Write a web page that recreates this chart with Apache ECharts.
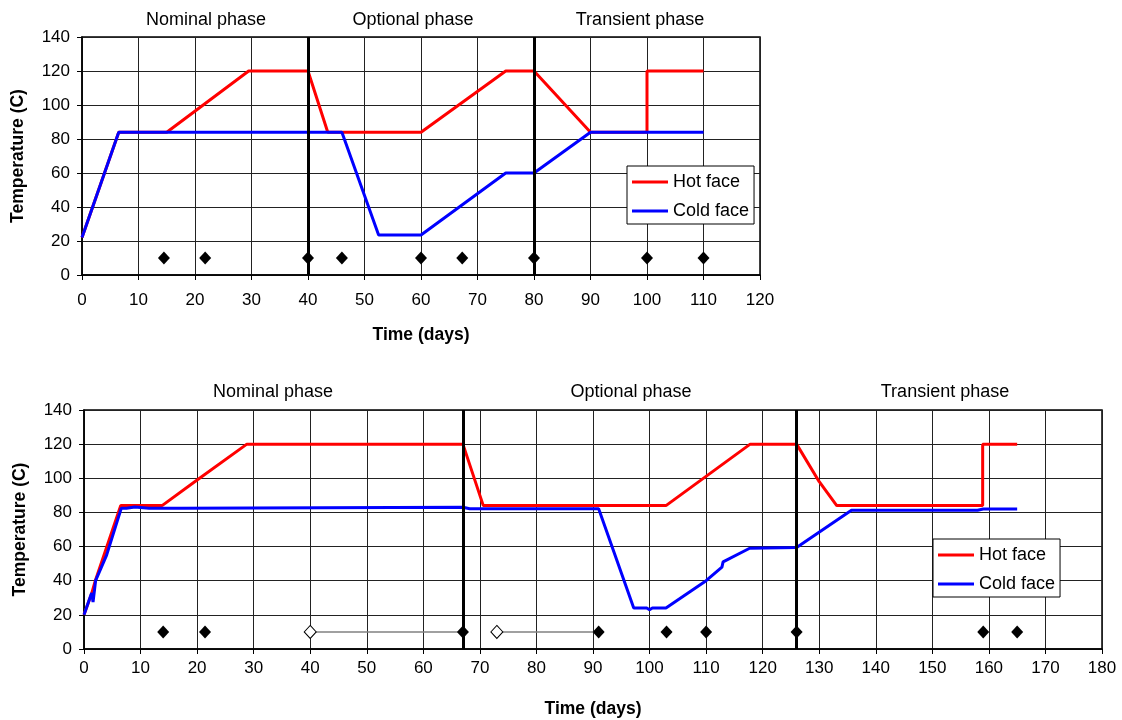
<!DOCTYPE html>
<html>
<head>
<meta charset="utf-8">
<script src="https://cdn.jsdelivr.net/npm/echarts@6/dist/echarts.min.js"></script>
<style>
html,body{margin:0;padding:0;background:#fff;}
#chart{width:1122px;height:720px;}
</style>
</head>
<body>
<div id="chart"></div>
<script>
// ---------- Data ----------
var phaseNames = ['Nominal phase', 'Optional phase', 'Transient phase'];
var seriesNames = ['Hot face', 'Cold face'];

// Top chart
var topHotX  = [0, 6.5, 15, 29.5, 40, 43.5, 60, 75, 80, 90, 100, 100, 110];
var topHotY  = [22, 84, 84, 120, 120, 84, 84, 120, 120, 84, 84, 120, 120];
var topColdX = [0, 6.5, 46, 52.5, 60, 75, 80, 90, 110];
var topColdY = [22, 84, 84, 23.5, 23.5, 60, 60, 84, 84];
var topMarkX = [14.5, 21.8, 40, 46, 60, 67.3, 80, 100, 110];
var topDividers = [40, 80];

// Bottom chart
var botHotX  = [0, 1.4, 2, 6.5, 13.8, 20, 28.8, 67, 70.6, 102.9, 117.8, 126, 130, 133.1, 158.9, 158.9, 165];
var botHotY  = [20, 33, 40, 84, 84, 99, 120, 120, 84, 84, 120, 120, 98, 84, 84, 120, 120];
var botColdX = [0, 1.35, 1.6, 1.95, 2.05, 4, 6.6, 7.5, 9, 11.5, 17.2, 17.4, 67, 68.2, 91, 97.2, 99.5, 100, 100.5, 102.9, 110, 112.8, 113, 117.7, 126, 135.7, 158, 159, 165];
var botColdY = [20, 32.8, 27.5, 27.5, 40, 55, 82.5, 82.5, 83.2, 82.4, 82.4, 83, 83, 82.2, 82.2, 24, 24, 23, 24, 24, 40, 48, 51, 59, 59.5, 81.3, 81.3, 82, 82];
var botMarkX = [14, 21.4, 67, 91, 103, 110, 126, 159, 165];
var botHollowX = [40, 73];
var botLinks = [[40, 67], [73, 91]];
var botDividers = [67, 126];

var markerY = 10;
var yTicks = {min: 0, max: 140, interval: 20};

// ---------- Helpers ----------
function pairs(xs, ys) { return xs.map(function (x, i) { return [x, ys[i]]; }); }
function pts(xs) { return xs.map(function (x) { return [x, markerY]; }); }

var FONT = '"Liberation Sans", Arial, sans-serif';

function makeX(idx, max) {
  return {
    type: 'value', gridIndex: idx, min: 0, max: max, interval: 10,
    name: 'Time (days)', nameLocation: 'middle', nameGap: 51,
    nameTextStyle: {fontFamily: FONT, fontSize: 17.5, fontWeight: 'bold', color: '#000'},
    axisLine: {lineStyle: {color: '#000', width: 1.5}},
    axisTick: {show: true, length: 5, lineStyle: {color: '#000'}},
    axisLabel: {fontFamily: FONT, fontSize: 17, color: '#000', margin: idx === 0 ? 17 : 11},
    splitLine: {show: true, lineStyle: {color: '#222', width: 1}}
  };
}
function makeY(idx) {
  return {
    type: 'value', gridIndex: idx, min: yTicks.min, max: yTicks.max, interval: yTicks.interval,
    name: 'Temperature (C)', nameLocation: 'middle', nameGap: idx === 0 ? 54.5 : 55,
    nameTextStyle: {fontFamily: FONT, fontSize: 17.5, fontWeight: 'bold', color: '#000'},
    axisLine: {show: true, lineStyle: {color: '#000', width: 1.5}},
    axisTick: {show: true, length: 5, lineStyle: {color: '#000'}},
    axisLabel: {fontFamily: FONT, fontSize: 17, color: '#000', margin: 12},
    splitLine: {show: true, lineStyle: {color: '#222', width: 1}}
  };
}

function dividerSeries(idx, xs) {
  return {
    type: 'line', xAxisIndex: idx, yAxisIndex: idx, data: [], silent: true,
    markLine: {
      silent: true, symbol: ['none', 'none'], animation: false,
      label: {show: false},
      lineStyle: {color: '#000', width: 3, type: 'solid'},
      data: xs.map(function (x) { return {xAxis: x}; })
    }
  };
}
function lineSeries(idx, name, data, color) {
  return {
    type: 'line', name: name, xAxisIndex: idx, yAxisIndex: idx,
    data: data, symbol: 'none', showSymbol: false, animation: false,
    lineStyle: {color: color, width: 3}, itemStyle: {color: color}, z: 3
  };
}
function markerSeries(idx, data, hollow) {
  return {
    type: 'scatter', xAxisIndex: idx, yAxisIndex: idx, data: data,
    symbol: 'diamond', symbolSize: [12, 13], animation: false, z: 5,
    itemStyle: hollow ? {color: '#fff', borderColor: '#000', borderWidth: 1, opacity: 1}
                      : {color: '#000', opacity: 1}
  };
}

var series = [];
// top
series.push(dividerSeries(0, topDividers));
series.push(lineSeries(0, seriesNames[0], pairs(topHotX, topHotY), '#ff0000'));
series.push(lineSeries(0, seriesNames[1], pairs(topColdX, topColdY), '#0000ff'));
series.push(markerSeries(0, pts(topMarkX), false));
// bottom
series.push(dividerSeries(1, botDividers));
botLinks.forEach(function (l) {
  series.push({
    type: 'line', xAxisIndex: 1, yAxisIndex: 1, data: pts(l), symbol: 'none',
    lineStyle: {color: '#808080', width: 1.5}, animation: false, z: 4, silent: true
  });
});
series.push(lineSeries(1, seriesNames[0], pairs(botHotX, botHotY), '#ff0000'));
series.push(lineSeries(1, seriesNames[1], pairs(botColdX, botColdY), '#0000ff'));
series.push(markerSeries(1, pts(botMarkX), false));
series.push(markerSeries(1, pts(botHollowX), true));

function phaseTitle(text, cx, top) {
  return {text: text, left: cx, top: top, textAlign: 'center', padding: 0,
    textStyle: {fontFamily: FONT, fontSize: 18, fontWeight: 'normal', color: '#000'}};
}

var legendCommon = {
  orient: 'vertical', data: seriesNames, backgroundColor: '#fff',
  borderColor: '#000', borderWidth: 1, padding: [7, 5, 4, 5], itemGap: 11,
  icon: 'rect', itemWidth: 36, itemHeight: 3,
  textStyle: {fontFamily: FONT, fontSize: 18, color: '#000'},
  selectedMode: false
};

var option = {
  backgroundColor: '#fff',
  animation: false,
  title: [
    phaseTitle(phaseNames[0], 206, 11),
    phaseTitle(phaseNames[1], 413, 11),
    phaseTitle(phaseNames[2], 640, 11),
    phaseTitle(phaseNames[0], 273, 383),
    phaseTitle(phaseNames[1], 631, 383),
    phaseTitle(phaseNames[2], 945, 383)
  ],
  legend: [
    Object.assign({left: 627, top: 166}, legendCommon),
    Object.assign({left: 933, top: 539}, legendCommon)
  ],
  grid: [
    {left: 82, top: 37, width: 678, height: 238, show: true, borderColor: '#000', borderWidth: 1.5, backgroundColor: '#fff'},
    {left: 84, top: 410, width: 1018, height: 239, show: true, borderColor: '#000', borderWidth: 1.5, backgroundColor: '#fff'}
  ],
  xAxis: [makeX(0, 120), makeX(1, 180)],
  yAxis: [makeY(0), makeY(1)],
  series: series
};

var chart = echarts.init(document.getElementById('chart'), null, {renderer: 'canvas'});
chart.setOption(option);
</script>
</body>
</html>
